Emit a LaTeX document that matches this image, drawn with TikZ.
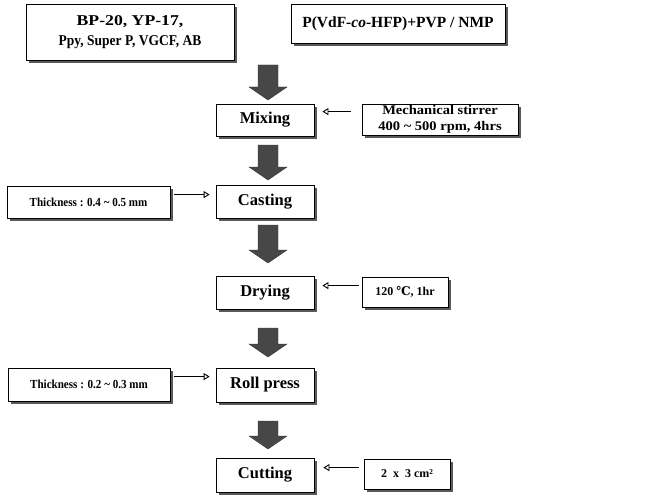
\documentclass[tikz,border=0pt]{standalone}
\usepackage{fontspec}
\setmainfont{Liberation Serif}
\newfontfamily\symfont{DejaVu Serif}
\usetikzlibrary{arrows.meta,calc,shadows}
\tikzset{
  box/.style={draw=black, line width=0.8pt, fill=white, inner sep=0pt,
    font=\bfseries, align=center,
    drop shadow={shadow xshift=2.6pt, shadow yshift=-3pt, fill=black!65, opacity=1}},
  sidearrow/.style={draw=black, line width=1pt, -{Triangle[open,length=6pt,width=7pt,line width=0.9pt]}},
  arrowfill/.style={fill=black!72, draw=black!80, line width=0.4pt},
}
\newcommand\blockarrow[3]{%
  \path[arrowfill] ({#1-10},{#2}) -- ({#1+10},{#2}) -- ({#1+10},{#3-13}) -- ({#1+19},{#3-13})
    -- ({#1},{#3}) -- ({#1-19},{#3-13}) -- ({#1-10},{#3-13}) -- cycle;}
\begin{document}
\begin{tikzpicture}[x=1pt,y=-1pt]
\useasboundingbox (0,0) rectangle (662,503);
% top inputs
\node[box, minimum width=208pt, minimum height=56pt, font=\bfseries\fontsize{15}{20.5}\selectfont]
  (mat) at (130,32) {{\addfontfeatures{FakeStretch=1.18}BP-20, YP-17,}\\{\addfontfeatures{FakeStretch=0.9}Ppy, Super P, VGCF, AB}};
\node[box, minimum width=214pt, minimum height=39pt, font=\bfseries\fontsize{15.5}{18}\selectfont]
  (bind) at (398,24) {P(VdF-\textit{co}-HFP)+PVP / NMP};
% process steps
\node[box, minimum width=98pt, minimum height=32pt, font=\bfseries\fontsize{16.5}{18}\selectfont]
  (mix) at (265,120) {Mixing};
\node[box, minimum width=98pt, minimum height=33pt, font=\bfseries\fontsize{16.5}{18}\selectfont]
  (cast) at (265,201.5) {Casting};
\node[box, minimum width=98pt, minimum height=33pt, font=\bfseries\fontsize{16.5}{18}\selectfont]
  (dry) at (265,292.5) {Drying};
\node[box, minimum width=98pt, minimum height=34pt, font=\bfseries\fontsize{16.5}{18}\selectfont]
  (roll) at (265,385) {Roll press};
\node[box, minimum width=98pt, minimum height=34pt, font=\bfseries\fontsize{16.5}{18}\selectfont]
  (cut) at (265,475) {Cutting};
% conditions
\node[box, minimum width=156pt, minimum height=31pt, font=\bfseries\fontsize{13.2}{15.5}\addfontfeatures{FakeStretch=1.1}\selectfont]
  (mech) at (440,119.5) {Mechanical stirrer\\400 \char"007E{} 500 rpm, 4hrs};
\node[box, minimum width=163pt, minimum height=32pt, font=\bfseries\fontsize{12.3}{14}\addfontfeatures{FakeStretch=0.9}\selectfont]
  (th1) at (88.5,202) {Thickness : 0.4 \char"007E{} 0.5 mm};
\node[box, minimum width=86pt, minimum height=30pt, font=\bfseries\fontsize{12}{14}\selectfont]
  (temp) at (405,292) {120 {\symfont\bfseries ℃}, 1hr};
\node[box, minimum width=162pt, minimum height=33pt, font=\bfseries\fontsize{12.3}{14}\addfontfeatures{FakeStretch=0.9}\selectfont]
  (th2) at (89,384.5) {Thickness : 0.2 \char"007E{} 0.3 mm};
\node[box, minimum width=86pt, minimum height=30pt, font=\bfseries\fontsize{12}{14}\selectfont]
  (size) at (407,474) {2\enspace x\enspace 3 cm²};
% block arrows
\blockarrow{268}{65}{100}
\blockarrow{268}{145}{180}
\blockarrow{268}{225}{263}
\blockarrow{268}{328}{357}
\blockarrow{268}{421}{449}
% side arrows
\coordinate (m1) at ($(mech.north west)+(0,8)$);
\draw[sidearrow, shorten <=11pt, shorten >=8pt] (m1) -- (m1 -| mix.east);
\coordinate (c1) at ($(th1.north east)+(0,9)$);
\draw[sidearrow, shorten <=4pt, shorten >=6pt] (c1) -- (c1 -| cast.west);
\coordinate (d1) at ($(temp.north west)+(0,9)$);
\draw[sidearrow, shorten <=3pt, shorten >=8pt] (d1) -- (d1 -| dry.east);
\coordinate (r1) at ($(th2.north east)+(0,9)$);
\draw[sidearrow, shorten <=4pt, shorten >=6pt] (r1) -- (r1 -| roll.west);
\coordinate (s1) at ($(size.north west)+(0,9)$);
\draw[sidearrow, shorten <=5pt, shorten >=9pt] (s1) -- (s1 -| cut.east);
\end{tikzpicture}
\end{document}
